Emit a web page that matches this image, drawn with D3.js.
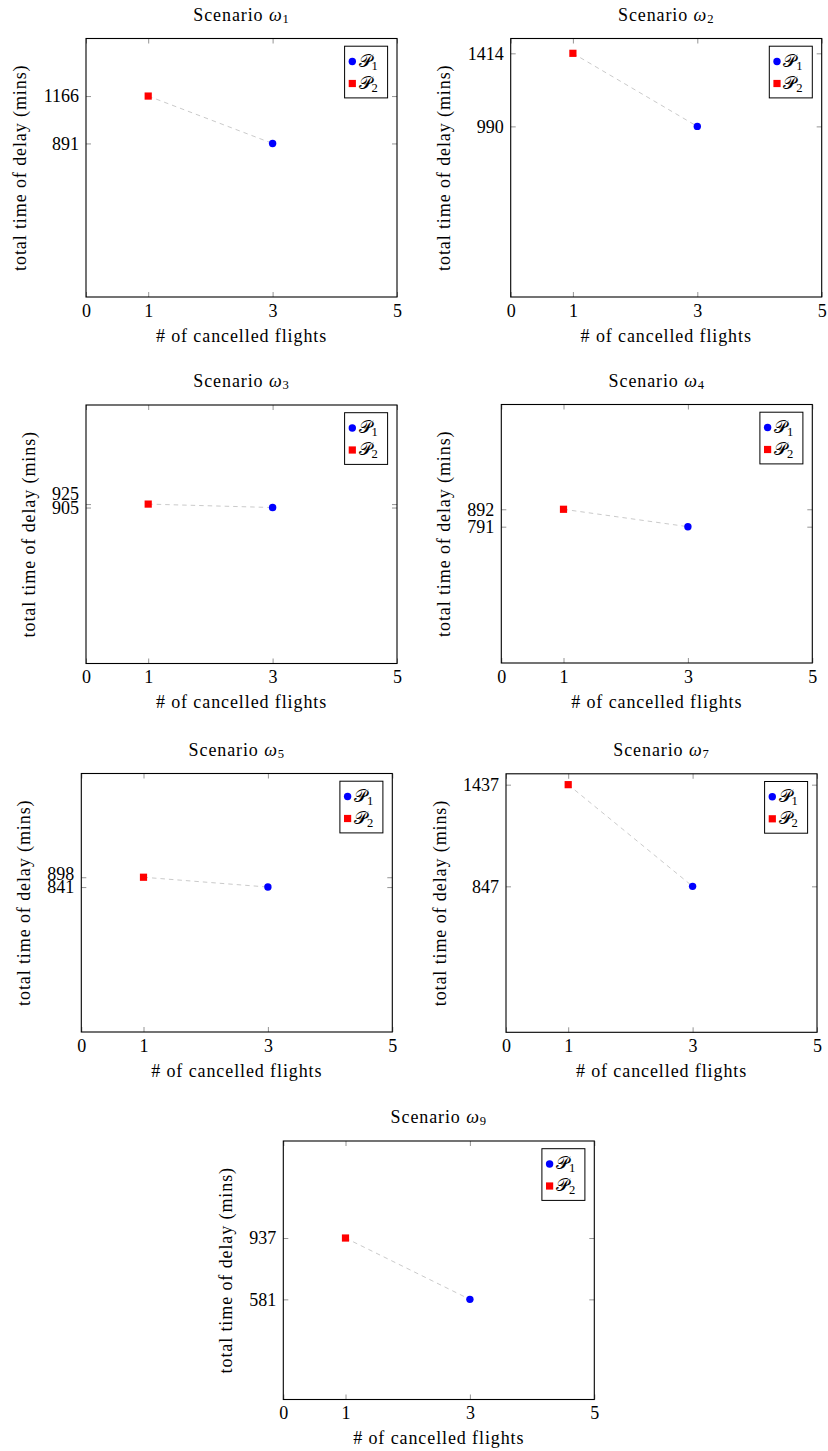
<!DOCTYPE html>
<html>
<head>
<meta charset="utf-8">
<script src="https://cdn.jsdelivr.net/npm/d3@7"></script>
<style>
  html, body { margin: 0; padding: 0; background: #fff; }
  svg { display: block; }
  text { font-family: "Liberation Serif", "DejaVu Serif", serif; fill: #000; }
</style>
</head>
<body>
<svg id="chart" width="828" height="1451"></svg>
<script>
// Scenario identifiers (subscripts of omega)
const scenarios = ["1", "2", "3", "4", "5", "7", "9"];
// Policy P1: number of cancelled flights and total delay (mins)
const p1Flights = [3, 3, 3, 3, 3, 3, 3];
const p1Delay = [891, 990, 905, 791, 841, 847, 581];
// Policy P2: number of cancelled flights and total delay (mins)
const p2Flights = [1, 1, 1, 1, 1, 1, 1];
const p2Delay = [1166, 1414, 925, 892, 898, 1437, 937];
// Axis settings
const xTickValues = [0, 1, 3, 5];
const xDomain = [0, 5];
const yDomain = [0, 1500];
const legendNames = ["1", "2"];

// Layout: top-left corner of each plot box
const panelOrigins = [
  [86, 38.5], [510.7, 38.5],
  [86, 405], [501.3, 404.5],
  [81.3, 773.5], [506, 773.8],
  [283.3, 1141]
];
const W = 311, H = 258.5;
const FS = 18;
const LS = 0.9; // extra tracking for word labels

const svg = d3.select("#chart");

function styleAxis(sel) {
  sel.select(".domain").remove();
  sel.selectAll(".tick line").attr("stroke", "#7a7a7a").attr("stroke-width", 0.8);
  sel.selectAll(".tick text")
    .attr("font-family", "Liberation Serif, DejaVu Serif, serif")
    .attr("font-size", FS).attr("fill", "#000");
  sel.attr("font-family", null).attr("font-size", null);
}

scenarios.forEach((sc, i) => {
  const [ox, oy] = panelOrigins[i];
  const g = svg.append("g").attr("transform", `translate(${ox},${oy})`);

  const x = d3.scaleLinear().domain(xDomain).range([0, W]);
  const y = d3.scaleLinear().domain(yDomain).range([H, 0]);
  const yVals = [p1Delay[i], p2Delay[i]];

  // x axis: labelled ticks at the bottom, bare ticks at the top
  g.append("g").attr("transform", `translate(0,${H})`)
    .call(d3.axisBottom(x).tickValues(xTickValues).tickSize(-5).tickPadding(7).tickFormat(d3.format("d")))
    .call(styleAxis);
  g.append("g")
    .call(d3.axisTop(x).tickValues(xTickValues).tickSize(-5).tickFormat(""))
    .call(styleAxis);

  // y axis: ticks at the two reported totals, left labelled, right bare
  const yLeft = g.append("g")
    .call(d3.axisLeft(y).tickValues(yVals).tickSize(-5).tickPadding(7).tickFormat(d3.format("d")))
    .call(styleAxis);
  g.append("g").attr("transform", `translate(${W},0)`)
    .call(d3.axisRight(y).tickValues(yVals).tickSize(-5).tickFormat(""))
    .call(styleAxis);

  // keep close tick labels apart: push the upper one up
  const ticks = yLeft.selectAll(".tick").nodes()
    .map(n => ({ node: n, pos: y(d3.select(n).datum()) }))
    .sort((a, b) => b.pos - a.pos);
  let last = null;
  const minGap = 13.5;
  ticks.forEach(t => {
    let p = t.pos;
    if (last !== null && last - p < minGap) p = last - minGap;
    d3.select(t.node).select("text").attr("y", p - t.pos);
    last = p;
  });

  // label width decides where the y title sits
  let maxW = 0;
  yLeft.selectAll(".tick text").each(function () {
    maxW = Math.max(maxW, this.getComputedTextLength());
  });

  // frame
  g.append("rect").attr("x", 0).attr("y", 0).attr("width", W).attr("height", H)
    .attr("fill", "none").attr("stroke", "#000").attr("stroke-width", 1.1);

  // dashed connector between the two policies
  const pts = [[p2Flights[i], p2Delay[i]], [p1Flights[i], p1Delay[i]]];
  g.append("path")
    .attr("d", d3.line().x(d => x(d[0])).y(d => y(d[1]))(pts))
    .attr("fill", "none").attr("stroke", "#c4c4c4").attr("stroke-width", 0.9)
    .attr("stroke-dasharray", "4.5,4");

  // P1 marker
  g.append("circle")
    .attr("cx", x(p1Flights[i])).attr("cy", y(p1Delay[i])).attr("r", 3.7)
    .attr("fill", "#0000ff");
  // P2 marker
  const s = 7.2;
  g.append("rect")
    .attr("x", x(p2Flights[i]) - s / 2).attr("y", y(p2Delay[i]) - s / 2)
    .attr("width", s).attr("height", s).attr("fill", "#ff0000");

  // title
  const title = g.append("text").attr("x", W / 2).attr("y", -17.8)
    .attr("text-anchor", "middle").attr("font-size", FS).attr("letter-spacing", LS);
  title.append("tspan").text("Scenario ");
  title.append("tspan").attr("font-style", "italic").text("ω");
  title.append("tspan").attr("font-size", 12.6).attr("dy", 2.2).text(sc);

  // axis titles
  g.append("text").attr("x", W / 2).attr("y", H + 44.5)
    .attr("text-anchor", "middle").attr("font-size", FS).attr("letter-spacing", LS)
    .text("# of cancelled flights");
  const ylx = -7 - maxW - 22 + 4.5;
  g.append("text")
    .attr("transform", `translate(${ylx},${H / 2}) rotate(-90)`)
    .attr("text-anchor", "middle").attr("font-size", FS).attr("letter-spacing", LS)
    .text("total time of delay (mins)");

  // legend
  const lw = 43, lh = 51.7;
  const lx = W - 9.4 - lw, ly = 7.7;
  const lg = g.append("g").attr("transform", `translate(${lx},${ly})`);
  lg.append("rect").attr("width", lw).attr("height", lh)
    .attr("fill", "#fff").attr("stroke", "#000").attr("stroke-width", 1);
  legendNames.forEach((nm, k) => {
    const cy = 15.3 + k * 22;
    if (k === 0) {
      lg.append("circle").attr("cx", 7.7).attr("cy", cy).attr("r", 3.7).attr("fill", "#0000ff");
    } else {
      lg.append("rect").attr("x", 7.7 - s / 2).attr("y", cy - s / 2)
        .attr("width", s).attr("height", s).attr("fill", "#ff0000");
    }
    const t = lg.append("text").attr("x", 14).attr("y", cy + 5.5).attr("font-size", FS);
    t.append("tspan").attr("font-family", "DejaVu Serif, DejaVu Sans, serif").text("𝒫");
    t.append("tspan").attr("font-size", 12.6).attr("dy", 2.8).text(nm);
  });
});
</script>
</body>
</html>
